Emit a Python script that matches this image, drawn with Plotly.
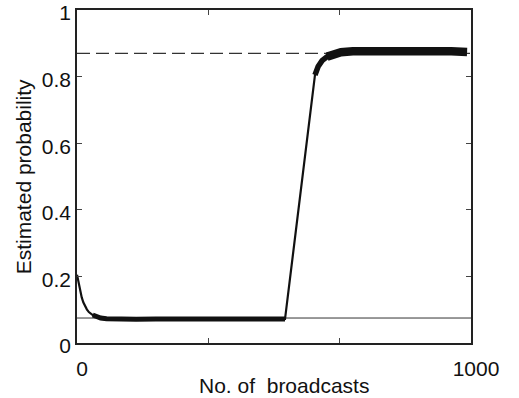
import plotly.graph_objects as go

# Estimated probability vs number of broadcasts
broadcasts = [0, 4, 8, 12, 16, 20, 25, 30, 40, 50, 60, 75, 100, 150, 200, 250,
              300, 350, 400, 450, 500, 528, 604, 612, 622, 635, 650, 670, 700,
              750, 800, 850, 900, 950, 990]
probability = [0.205, 0.18, 0.155, 0.137, 0.122, 0.111, 0.101, 0.093, 0.084,
               0.078, 0.075, 0.073, 0.072, 0.071, 0.072, 0.072, 0.071, 0.072,
               0.073, 0.072, 0.071, 0.072, 0.805, 0.83, 0.848, 0.86, 0.868,
               0.873, 0.876, 0.877, 0.878, 0.876, 0.874, 0.876, 0.874]

low_level = 0.075    # solid reference line
high_level = 0.87    # dashed reference line

x_range = [0, 1000]
y_ticks = [0, 0.2, 0.4, 0.6, 0.8, 1]
y_tick_labels = ["0", "0.2", "0.4", "0.6", "0.8", "1"]
x_ticks = [0, 1000 / 3, 2000 / 3, 1000]
x_tick_labels = ["0", "", "", "1000"]

x_title = "No. of \u00a0broadcasts"
y_title = "Estimated probability"

ink = "#111111"
font = "Liberation Sans, Arial, sans-serif"

fig = go.Figure()

# reference lines
fig.add_trace(go.Scatter(x=x_range, y=[low_level, low_level], mode="lines",
                         line=dict(color="#333333", width=1), hoverinfo="skip"))
fig.add_trace(go.Scatter(x=x_range, y=[high_level, high_level], mode="lines",
                         line=dict(color="#333333", width=1.3, dash="13px,6px"),
                         hoverinfo="skip"))

# main curve
fig.add_trace(go.Scatter(x=broadcasts, y=probability, mode="lines",
                         line=dict(color=ink, width=2.2)))

# noisy plateaus appear as thick bands
i_low_start = broadcasts.index(40)
i_low_end = broadcasts.index(528)
fig.add_trace(go.Scatter(x=broadcasts[i_low_start:i_low_end + 1],
                         y=probability[i_low_start:i_low_end + 1], mode="lines",
                         line=dict(color=ink, width=5)))
i_mid_start = broadcasts.index(604)
i_mid_end = broadcasts.index(670)
fig.add_trace(go.Scatter(x=broadcasts[i_mid_start:i_mid_end + 1],
                         y=probability[i_mid_start:i_mid_end + 1], mode="lines",
                         line=dict(color=ink, width=5.5)))
i_high_start = broadcasts.index(635)
fig.add_trace(go.Scatter(x=broadcasts[i_high_start:], y=probability[i_high_start:],
                         mode="lines", line=dict(color=ink, width=8.5)))

axis_common = dict(showline=True, mirror="ticks", linecolor="#222222", linewidth=1.5,
                   ticks="inside", ticklen=5, tickcolor="#444444", tickwidth=1,
                   showgrid=False, zeroline=False, automargin=False,
                   ticklabeloverflow="allow",
                   tickfont=dict(family=font, size=21, color=ink))

fig.update_layout(
    width=519, height=398,
    margin=dict(l=77, r=48, t=10, b=55),
    plot_bgcolor="white", paper_bgcolor="white",
    showlegend=False,
    font=dict(family=font, color=ink),
    xaxis=dict(range=x_range, tickvals=x_ticks, ticktext=x_tick_labels,
               ticklabelstandoff=6, ticklabelshift=5, **axis_common),
    yaxis=dict(range=[0, 1], tickvals=y_ticks, ticktext=y_tick_labels,
               ticklabelshift=3, **axis_common),
    annotations=[
        dict(text=x_title, xref="paper", yref="paper", x=0.525, y=-0.088,
             xanchor="center", yanchor="top", showarrow=False,
             font=dict(family=font, size=21, color=ink)),
        dict(text=y_title, xref="paper", yref="paper", x=-0.135, y=0.5,
             xanchor="center", yanchor="middle", showarrow=False, textangle=-90,
             font=dict(family=font, size=21, color=ink)),
    ],
)

fig.write_html("out.html", config={"displayModeBar": False},
               post_script="document.body.style.margin='0';")
